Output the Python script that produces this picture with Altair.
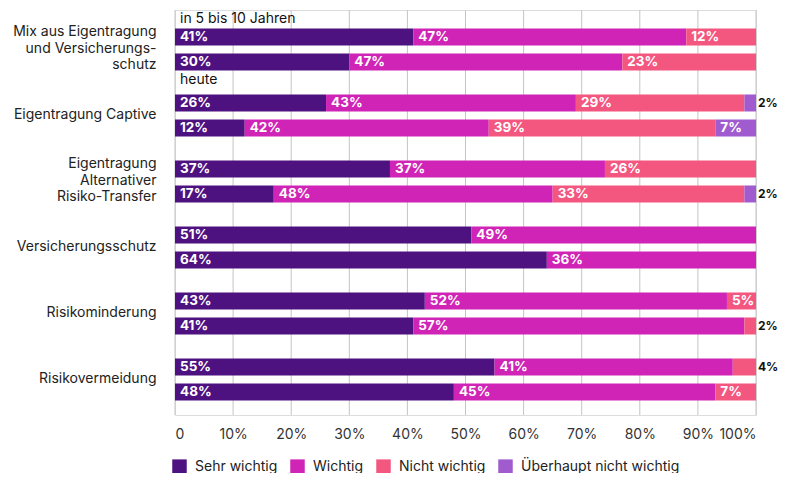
import altair as alt
import pandas as pd

groups = [
    "Mix aus Eigentragung|und Versicherungs-|schutz",
    "Eigentragung Captive",
    "Eigentragung|Alternativer|Risiko-Transfer",
    "Versicherungsschutz",
    "Risikominderung",
    "Risikovermeidung",
]
periods = ["in 5 bis 10 Jahren", "heute"]
levels = ["Sehr wichtig", "Wichtig", "Nicht wichtig", "Überhaupt nicht wichtig"]
colors = ["#4E1280", "#D024B6", "#F3567F", "#A05BCF"]
x_ticks = [0, 10, 20, 30, 40, 50, 60, 70, 80, 90, 100]

# values per group: [future row, heute row]
sehr_wichtig = [[41, 30], [26, 12], [37, 17], [51, 64], [43, 41], [55, 48]]
wichtig = [[47, 47], [43, 42], [37, 48], [49, 36], [52, 57], [41, 45]]
nicht_wichtig = [[12, 23], [29, 39], [26, 33], [0, 0], [5, 2], [4, 7]]
ueberhaupt = [[0, 0], [2, 7], [0, 2], [0, 0], [0, 0], [0, 0]]

rows = []
for gi, g in enumerate(groups):
    for pi, p in enumerate(periods):
        vals = [sehr_wichtig[gi][pi], wichtig[gi][pi], nicht_wichtig[gi][pi], ueberhaupt[gi][pi]]
        start = 0
        for li, lv in enumerate(levels):
            v = vals[li]
            if v > 0:
                rows.append(dict(group=g, period=p, level=lv, order=li, value=v,
                                 start=start, end=start + v, label=f"{v}%",
                                 inside=v >= 5))
            start += v
df = pd.DataFrame(rows)
ann_top = pd.DataFrame([dict(group=groups[0], period=periods[0], text=periods[0], zero=0)])
ann_bot = pd.DataFrame([dict(group=groups[0], period=periods[1], text=periods[1], zero=0)])
grid_df = pd.DataFrame({"tick": x_ticks})

FONT = "Inter"

y_enc = alt.Y("group:N", sort=groups, title=None,
              scale=alt.Scale(paddingInner=24 / 66, paddingOuter=0.25, align=0.56),
              axis=alt.Axis(labelExpr="split(datum.label, '|')", domain=False, ticks=False,
                            labelPadding=19, labelFontSize=14, labelColor="#222",
                            labelFont=FONT, labelLineHeight=16.5, labelLimit=300,
                            labelOffset={"condition": {"test": "indexof(datum.label, '|') >= 0",
                                                       "value": -17}, "value": 0}))
yoff = alt.YOffset("period:N", sort=periods,
                   scale=alt.Scale(paddingInner=0.32, paddingOuter=0))
x_scale = alt.Scale(domain=[0, 100], nice=False)
x_axis = alt.Axis(values=x_ticks,
                  labelExpr="datum.value == 0 ? '0' : datum.value + '%'",
                  domain=False, ticks=False, labelPadding=12, grid=False,
                  labelFontSize=14, labelColor="#333", labelFont=FONT, title=None)

grid = alt.Chart(grid_df).mark_rule(color="#c4c4c4", strokeWidth=1).encode(
    x=alt.X("tick:Q", scale=x_scale, axis=x_axis)
)

base = alt.Chart(df)

bars = base.mark_bar(height=alt.RelativeBandSize(1)).encode(
    y=y_enc,
    yOffset=yoff,
    x=alt.X("start:Q", scale=x_scale, title=None, axis=x_axis),
    x2="end:Q",
    color=alt.Color("level:N", sort=levels,
                    scale=alt.Scale(domain=levels, range=colors),
                    legend=alt.Legend(title=None, orient="none", direction="horizontal",
                                      legendX=-3, legendY=44 + 405, symbolType="square",
                                      symbolSize=210, symbolStrokeWidth=0,
                                      labelFontSize=14, labelFont=FONT, labelColor="#222",
                                      columnPadding=12, labelOffset=8)),
    order=alt.Order("order:Q"),
)


def seg_text(filter_expr, field, color, dx, size):
    return base.transform_filter(filter_expr).mark_text(
        align="left", baseline="middle", dx=dx, color=color, fontWeight="bold",
        fontSize=size, font=FONT
    ).encode(
        y=alt.Y("group:N", sort=groups),
        yOffset=alt.YOffset("period:N", sort=periods),
        x=alt.X(f"{field}:Q", scale=x_scale, axis=x_axis),
        text="label:N",
    )


inside_text = seg_text("datum.inside", "start", "white", 5, 13.5)
outside_text = seg_text("!datum.inside", "end", "#111", 2, 12)


def ann_layer(d, dy):
    return alt.Chart(d).mark_text(
        align="left", baseline="middle", dx=5, dy=dy, color="#111",
        fontSize=14, font=FONT
    ).encode(
        y=alt.Y("group:N", sort=groups),
        yOffset=alt.YOffset("period:N", sort=periods),
        x=alt.X("zero:Q", scale=x_scale, axis=x_axis),
        text="text:N",
    )


ann1 = ann_layer(ann_top, -18)
ann2 = ann_layer(ann_bot, 18)

chart = alt.layer(grid, bars, inside_text, outside_text, ann1, ann2).properties(
    width=581, height=405,
    autosize=alt.AutoSizeParams(type="none"),
    padding={"left": 167, "top": 2, "right": 22, "bottom": 58},
).configure_view(stroke=None).configure(font=FONT)

chart.save("out.html", embed_options={"renderer": "svg", "actions": False})
